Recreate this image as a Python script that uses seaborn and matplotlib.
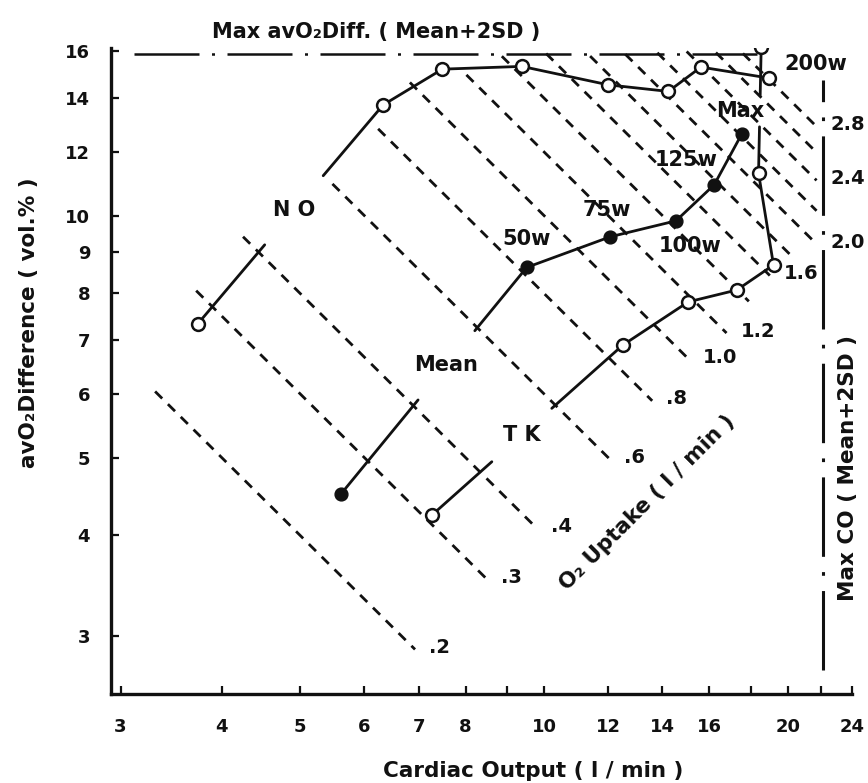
import numpy as np
import pandas as pd
import matplotlib
matplotlib.use("Agg")
import matplotlib.pyplot as plt
import seaborn as sns
from matplotlib.ticker import FixedLocator, FixedFormatter, NullLocator

# ---- data -------------------------------------------------------------
# subject N.O. (open circles): rest, then exercise stages up to 200 W
NO_CO = [3.74, 6.33, 7.49, 9.39, 12.01, 14.24, 15.62, 18.93]
NO_AVO2 = [7.34, 13.73, 15.21, 15.33, 14.54, 14.27, 15.30, 14.83]

# group mean (filled circles): rest, 50 W, 75 W, 100 W, 125 W, max
MEAN_CO = [5.62, 9.52, 12.07, 14.55, 16.22, 17.55]
MEAN_AVO2 = [4.51, 8.62, 9.41, 9.85, 10.92, 12.64]
MEAN_STAGES = ["", "50w", "75w", "100w", "125w", "Max"]

# subject T.K. (open circles)
TK_CO = [7.27, 12.51, 15.07, 17.30, 19.2, 18.40, 18.54]
TK_AVO2 = [4.24, 6.90, 7.81, 8.08, 8.68, 11.29, 16.2]

# iso-lines of O2 uptake (l/min) and the cardiac output range they span
VO2_LEVELS = [0.2, 0.3, 0.4, 0.6, 0.8, 1.0, 1.2, 1.4, 1.6, 1.8, 2.0, 2.2, 2.4, 2.6, 2.8]
ISO_CO_START = [3.31, 3.72, 4.25, 5.48, 6.24, 6.83, 8.02, 8.87, 10.06, 11.4, 12.6, 13.8, 15.0, 16.3, 17.6]
ISO_CO_END = [6.93, 8.50, 9.80, 12.07, 13.6, 15.1, 16.8, 17.9, 19.0, 20.3, 21.7, 21.7, 21.7, 21.7, 21.7]
ISO_LABELS = {0.2: ".2", 0.3: ".3", 0.4: ".4", 0.6: ".6", 0.8: ".8", 1.0: "1.0",
              1.2: "1.2", 1.6: "1.6", 2.0: "2.0", 2.4: "2.4", 2.8: "2.8"}

# reference limits (mean + 2SD)
MAX_AVO2 = 15.9
MAX_AVO2_CO = [3.12, 18.3]
MAX_CO = 22.1
MAX_CO_AVO2 = [2.72, 14.75]

X_TICKS = [3, 4, 5, 6, 7, 8, 9, 10, 12, 14, 16, 18, 20, 22, 24]
X_TICK_LABELS = ["3", "4", "5", "6", "7", "8", "", "10", "12", "14", "16", "", "20", "", "24"]
Y_TICKS = [3, 4, 5, 6, 7, 8, 9, 10, 12, 14, 16]
Y_TICK_LABELS = ["3", "4", "5", "6", "7", "8", "9", "10", "12", "14", "16"]

# ---- style --------------------------------------------------------------
sns.set_theme(style="ticks")
plt.rcParams["font.family"] = ["DejaVu Sans"]
plt.rcParams["font.weight"] = "bold"
INK = "#111111"
FS_TICK = 13
FS_NOTE = 15
FS_ISO = 14
FS_LABEL = 15.5

W, H = 868, 783
fig = plt.figure(figsize=(W / 100, H / 100), dpi=100)
fig.patch.set_facecolor("white")
ax = fig.add_axes([111 / W, 1 - 694 / H, (852 - 111) / W, (694 - 48) / H])
ax.set_facecolor("white")
ax.set_xscale("log")
ax.set_yscale("log")
ax.set_xlim(2.92, 24.0)
ax.set_ylim(2.54, 16.16)


def split_path(xs, ys, gaps, name):
    """Break a polyline in log space, leaving room for a text label."""
    rows = []
    piece = 0
    rows.append((xs[0], ys[0], piece))
    for i in range(len(xs) - 1):
        if i in gaps:
            lx0, ly0 = np.log10(xs[i]), np.log10(ys[i])
            lx1, ly1 = np.log10(xs[i + 1]), np.log10(ys[i + 1])
            t0, t1 = gaps[i]
            rows.append((10 ** (lx0 + t0 * (lx1 - lx0)), 10 ** (ly0 + t0 * (ly1 - ly0)), piece))
            piece += 1
            rows.append((10 ** (lx0 + t1 * (lx1 - lx0)), 10 ** (ly0 + t1 * (ly1 - ly0)), piece))
        rows.append((xs[i + 1], ys[i + 1], piece))
    df = pd.DataFrame(rows, columns=["co", "avo2", "piece"])
    df["piece"] = name + df["piece"].astype(str)
    return df


def gap_centre(xs, ys, i, gap):
    t = 0.5 * (gap[0] + gap[1])
    lx0, ly0 = np.log10(xs[i]), np.log10(ys[i])
    lx1, ly1 = np.log10(xs[i + 1]), np.log10(ys[i + 1])
    return 10 ** (lx0 + t * (lx1 - lx0)), 10 ** (ly0 + t * (ly1 - ly0))


# ---- O2 uptake iso-lines --------------------------------------------------
iso_rows = []
for v, c0, c1 in zip(VO2_LEVELS, ISO_CO_START, ISO_CO_END):
    for c in (c0, c1):
        iso_rows.append((v, c, 100 * v / c))
iso = pd.DataFrame(iso_rows, columns=["vo2", "co", "avo2"])
sns.lineplot(data=iso, x="co", y="avo2", units="vo2", estimator=None, sort=False,
             color=INK, lw=2.0, ax=ax, legend=False)
for line in ax.lines:
    line.set_dashes((3.6, 2.9))
    line.set_dash_capstyle("butt")

for v, c1 in zip(VO2_LEVELS, ISO_CO_END):
    if v in ISO_LABELS:
        ax.annotate(ISO_LABELS[v], xy=(c1, 100 * v / c1), xytext=(14, 2),
                    textcoords="offset pixels", ha="left", va="center",
                    fontsize=FS_ISO, fontweight="bold", color=INK,
                    annotation_clip=False)

# ---- reference limit lines ------------------------------------------------
n_before = len(ax.lines)
sns.lineplot(x=MAX_AVO2_CO, y=[MAX_AVO2, MAX_AVO2], color=INK, lw=1.8, ax=ax)
sns.lineplot(x=[MAX_CO, MAX_CO], y=MAX_CO_AVO2, color=INK, lw=2.2, ax=ax,
             estimator=None, sort=False)
for line in ax.lines[n_before:]:
    line.set_dashes((26, 5, 1.2, 5))

# ---- subject curves ---------------------------------------------------------
NO_GAPS = {0: (0.36, 0.676)}
MEAN_GAPS = {0: (0.414, 0.72)}
TK_GAPS = {0: (0.314, 0.628), 5: (0.368, 0.618)}

paths = pd.concat([
    split_path(NO_CO, NO_AVO2, NO_GAPS, "no"),
    split_path(MEAN_CO, MEAN_AVO2, MEAN_GAPS, "mean"),
    split_path(TK_CO, TK_AVO2, TK_GAPS, "tk"),
])
sns.lineplot(data=paths, x="co", y="avo2", units="piece", estimator=None, sort=False,
             color=INK, lw=2.0, ax=ax, legend=False)

open_pts = pd.DataFrame({"co": NO_CO + TK_CO, "avo2": NO_AVO2 + TK_AVO2})
sns.scatterplot(data=open_pts, x="co", y="avo2", s=85, marker="o",
                facecolor="white", edgecolor=INK, linewidth=1.8, ax=ax, zorder=5)
sns.scatterplot(x=MEAN_CO, y=MEAN_AVO2, s=85, marker="o",
                color=INK, edgecolor=INK, linewidth=1.0, ax=ax, zorder=5)

# curve names sit in the line breaks
for name, xs, ys, gaps in (("N O", NO_CO, NO_AVO2, NO_GAPS),
                           ("Mean", MEAN_CO, MEAN_AVO2, MEAN_GAPS),
                           ("T K", TK_CO, TK_AVO2, TK_GAPS)):
    cx, cy = gap_centre(xs, ys, 0, gaps[0])
    ax.text(cx, cy, name, ha="center", va="center", fontsize=FS_NOTE,
            fontweight="bold", color=INK)

# exercise stage labels on the mean curve
stage_offsets = {"50w": (0, 28), "75w": (-3, 27), "100w": (14, -25),
                 "125w": (-28, 25), "Max": (-2, 23)}
for c, a, lab in zip(MEAN_CO, MEAN_AVO2, MEAN_STAGES):
    if lab:
        ax.annotate(lab, xy=(c, a), xytext=stage_offsets[lab], textcoords="offset pixels",
                    ha="center", va="center", fontsize=FS_NOTE, fontweight="bold", color=INK)
ax.annotate("200w", xy=(NO_CO[-1], NO_AVO2[-1]), xytext=(47, 14),
            textcoords="offset pixels", ha="center", va="center",
            fontsize=FS_NOTE, fontweight="bold", color=INK, annotation_clip=False)

# ---- axes -------------------------------------------------------------------
ax.xaxis.set_major_locator(FixedLocator(X_TICKS))
ax.xaxis.set_major_formatter(FixedFormatter(X_TICK_LABELS))
ax.xaxis.set_minor_locator(NullLocator())
ax.yaxis.set_major_locator(FixedLocator(Y_TICKS))
ax.yaxis.set_major_formatter(FixedFormatter(Y_TICK_LABELS))
ax.yaxis.set_minor_locator(NullLocator())
ax.tick_params(axis="both", direction="in", length=6, width=1.6, colors=INK,
               labelsize=FS_TICK)
ax.tick_params(axis="x", pad=17)
ax.tick_params(axis="y", pad=15)
for lab in ax.get_xticklabels() + ax.get_yticklabels():
    lab.set_fontweight("bold")
sns.despine(ax=ax)
for side in ("left", "bottom"):
    ax.spines[side].set_linewidth(2.4)
    ax.spines[side].set_color(INK)
ax.set_xlabel("")
ax.set_ylabel("")

fig.text(376 / W, 1 - 32 / H, "Max avO\u2082Diff. ( Mean+2SD )", ha="center", va="center",
         fontsize=FS_LABEL - 0.5, fontweight="bold", color=INK)
fig.text(533 / W, 1 - 771 / H, "Cardiac Output ( l / min )", ha="center", va="center",
         fontsize=FS_LABEL, fontweight="bold", color=INK)
fig.text(29 / W, 1 - 323 / H, "avO\u2082Difference ( vol.% )", ha="center", va="center",
         rotation=90, fontsize=FS_LABEL, fontweight="bold", color=INK)
fig.text(848 / W, 1 - 468 / H, "Max CO ( Mean+2SD )", ha="center", va="center",
         rotation=90, fontsize=FS_LABEL, fontweight="bold", color=INK)
fig.text(647 / W, 1 - 503 / H, "O\u2082 Uptake ( l / min )", ha="center", va="center",
         rotation=45, rotation_mode="anchor", fontsize=FS_LABEL, fontweight="bold", color=INK)

fig.savefig("out.png", dpi=100, facecolor="white")
